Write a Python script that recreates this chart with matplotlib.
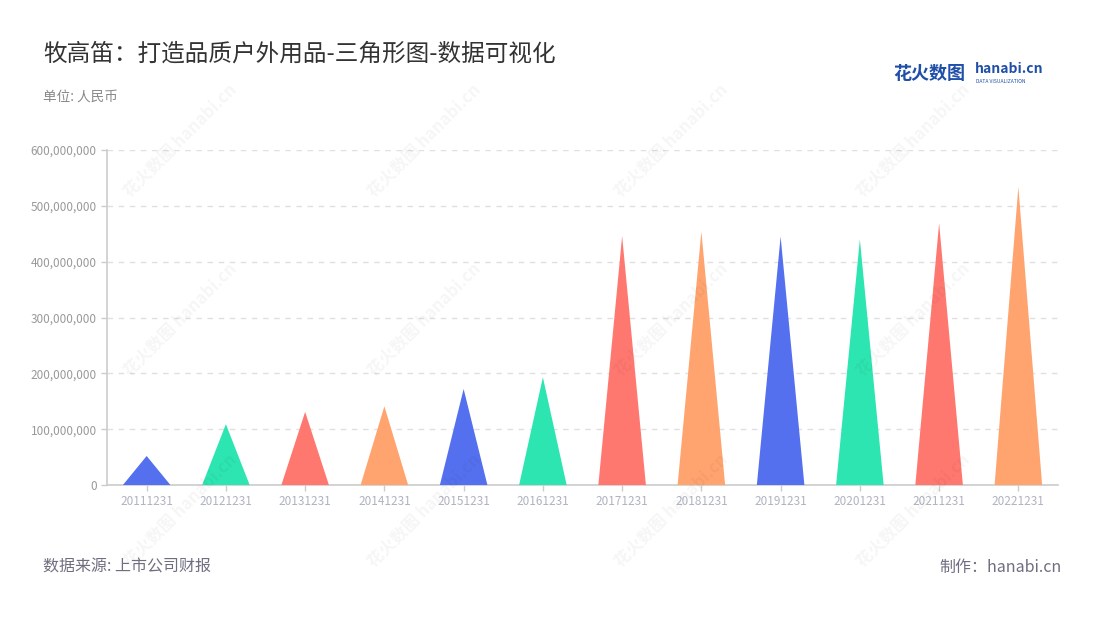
import matplotlib
matplotlib.use("Agg")
import matplotlib.pyplot as plt
from matplotlib.ticker import FuncFormatter, MultipleLocator

plt.rcParams['font.family'] = ['Noto Sans CJK SC', 'DejaVu Sans']

categories = ["20111231", "20121231", "20131231", "20141231", "20151231", "20161231",
              "20171231", "20181231", "20191231", "20201231", "20211231", "20221231"]
values = [52e6, 109e6, 131e6, 141e6, 172e6, 193e6,
          446e6, 454e6, 445e6, 440e6, 469e6, 534e6]
palette = ["#5470ee", "#2de5b0", "#ff7870", "#ffa46f"]

title = "牧高笛：打造品质户外用品-三角形图-数据可视化"
unit = "单位: 人民币"
source = "数据来源: 上市公司财报"
maker = "制作：hanabi.cn"

fig = plt.figure(figsize=(11, 6.2), dpi=100)
ax = fig.add_axes([0.0973, 0.2177, 0.8645, 0.5403])

half = 0.3
for i, (c, v) in enumerate(zip(categories, values)):
    ax.fill([i - half, i, i + half], [0, v, 0], color=palette[i % 4], lw=0, zorder=3)

ax.set_xlim(-0.5, len(categories) - 0.5)
ax.set_ylim(0, 600e6)
ax.set_xticks(range(len(categories)))
ax.set_xticklabels(categories)
ax.yaxis.set_major_locator(MultipleLocator(100e6))
ax.yaxis.set_major_formatter(FuncFormatter(lambda v, p: f"{int(v):,}"))

ax.grid(axis='y', color='#e0e0e0', linestyle=(0, (4, 4)), linewidth=1, zorder=0)
for s in ['top', 'right']:
    ax.spines[s].set_visible(False)
ax.spines['left'].set_color('#cccccc')
ax.spines['bottom'].set_color('#cccccc')
ax.spines['left'].set_linewidth(1.2)
ax.spines['bottom'].set_linewidth(1.2)
ax.tick_params(axis='y', colors='#cccccc', labelcolor='#999999', labelsize=8.5, length=4, width=1)
ax.tick_params(axis='x', colors='#cccccc', labelcolor='#b0b3c0', labelsize=8.5, length=4, width=1, pad=3)

# watermarks
for wx in [0.164, 0.386, 0.61, 0.83]:
    for wy in [0.774, 0.484, 0.177]:
        fig.text(wx, wy, "花火数图 hanabi.cn", rotation=45, fontsize=12, color='#000000',
                 alpha=0.04, ha='center', va='center', fontweight='bold', zorder=0)

fig.text(0.039, 0.912, title, fontsize=17, color='#333333', va='center', ha='left')
fig.text(0.039, 0.845, unit, fontsize=9.8, color='#888888', va='center', ha='left')
fig.text(0.039, 0.085, source, fontsize=11.5, color='#6e6e80', va='center', ha='left')
fig.text(0.965, 0.085, maker, fontsize=11.5, color='#6e6e80', va='center', ha='right')

# logo
fig.text(0.812, 0.882, "花火数图", fontsize=13, color='#1f4fa8', fontweight='bold', va='center', ha='left')
fig.text(0.886, 0.889, "hanabi.cn", fontsize=10, color='#1f4fa8', fontweight='bold', va='center', ha='left')
fig.text(0.887, 0.869, "DATA VISUALIZATION", fontsize=3.6, color='#1f4fa8', va='center', ha='left')

fig.savefig("out.png", dpi=100, facecolor='white')
